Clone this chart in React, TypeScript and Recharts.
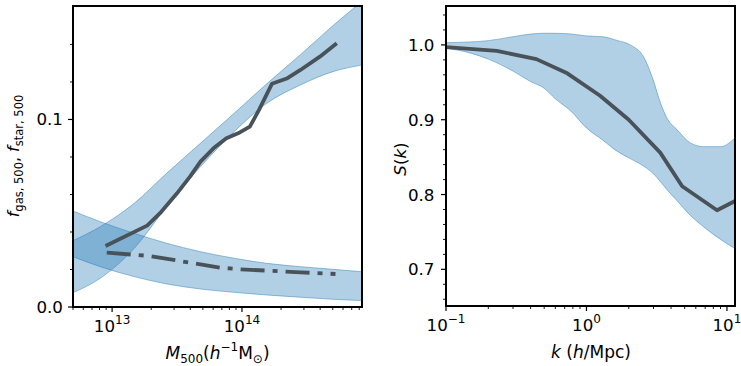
import React from "react";
import { ComposedChart, Area, Line, XAxis, YAxis } from "recharts";

const FONT = "DejaVu Sans";
const BAND = "#1f77b4";
const LINE = "#4a5259";

// left panel: gas / stellar fraction vs M500
const bandMass = [5.0e12, 8.1e12, 1.48e13, 2.63e13, 4.79e13, 8.71e13, 1.55e14, 2.82e14, 5.01e14, 8.4e14];
const gasBandHi = [0.0354, 0.0428, 0.0553, 0.0713, 0.0873, 0.1033, 0.119, 0.1345, 0.15, 0.163];
const gasBandLo = [0.0076, 0.0153, 0.0313, 0.0535, 0.0748, 0.0935, 0.1086, 0.1184, 0.1255, 0.129];
const starBandHi = [0.0512, 0.0455, 0.0393, 0.034, 0.0295, 0.026, 0.0233, 0.0215, 0.0201, 0.0188];
const starBandLo = [0.0268, 0.0215, 0.0162, 0.0123, 0.0096, 0.0078, 0.0064, 0.0052, 0.0041, 0.0034];

const gasMass = [8.9e12, 1.86e13, 2.34e13, 3.16e13, 3.98e13, 4.79e13, 6.03e13, 7.59e13, 9.33e13, 1.15e14, 1.35e14, 1.7e14, 2.24e14, 2.82e14, 3.98e14, 5.37e14];
const gasFrac = [0.0325, 0.0434, 0.05, 0.0606, 0.0695, 0.0775, 0.0846, 0.09, 0.0926, 0.0962, 0.105, 0.119, 0.122, 0.1264, 0.1335, 0.1406];

const starMass = [9.1e12, 1.95e13, 4.27e13, 6.76e13, 9.77e13, 1.55e14, 2.82e14, 5.25e14];
const starFrac = [0.029, 0.0272, 0.0233, 0.021, 0.0201, 0.0194, 0.0185, 0.0176];

const massTicks = [5e12, 6e12, 7e12, 8e12, 9e12, 1e13, 2e13, 3e13, 4e13, 5e13, 6e13, 7e13, 8e13, 9e13, 1e14, 2e14, 3e14, 4e14, 5e14, 6e14, 7e14, 8e14];
const fracTicks = [0, 0.02, 0.04, 0.06, 0.08, 0.1, 0.12, 0.14];
const fracMajor = [0, 0.1];

// right panel: suppression S(k)
const kBand = [0.1, 0.15, 0.2, 0.3, 0.4, 0.5, 0.6, 0.77, 1.0, 1.3, 1.65, 2.05, 2.55, 2.95, 3.4, 3.8, 4.4, 5.5, 6.8, 9.0, 11.6];
const sBandHi = [1.003, 1.004, 1.0057, 1.011, 1.0145, 1.0156, 1.0155, 1.0147, 1.012, 1.011, 1.006, 1.0, 0.984, 0.956, 0.92, 0.9, 0.887, 0.869, 0.864, 0.864, 0.877];
const sBandLo = [0.9956, 0.989, 0.981, 0.965, 0.951, 0.942, 0.928, 0.912, 0.889, 0.873, 0.858, 0.848, 0.838, 0.829, 0.816, 0.805, 0.792, 0.772, 0.757, 0.74, 0.727];

const kLine = [0.1, 0.23, 0.44, 0.73, 1.25, 2.0, 3.35, 4.8, 8.5, 11.6];
const sLine = [0.997, 0.992, 0.981, 0.962, 0.932, 0.9, 0.856, 0.811, 0.779, 0.792];

const kTicks = [0.1, 0.2, 0.3, 0.4, 0.5, 0.6, 0.7, 0.8, 0.9, 1, 2, 3, 4, 5, 6, 7, 8, 9, 10];
const sTicks = [0.66, 0.68, 0.7, 0.72, 0.74, 0.76, 0.78, 0.8, 0.82, 0.84, 0.86, 0.88, 0.9, 0.92, 0.94, 0.96, 0.98, 1.0, 1.02, 1.04];
const sMajor = [0.7, 0.8, 0.9, 1.0];

const bandRows = (xs: number[], lo: number[], hi: number[]) => xs.map((x, i) => ({ x, lo: lo[i], hi: hi[i] }));
const lineRows = (xs: number[], ys: number[]) => xs.map((x, i) => ({ x, y: ys[i] }));

const LogTick = (props: any) => {
  const { x, y, payload } = props;
  const e = Math.log10(payload.value);
  const major = Math.abs(e - Math.round(e)) < 1e-6;
  const len = major ? 5 : 3;
  const exp = Math.round(e);
  return (
    <g>
      <line x1={x} x2={x} y1={y} y2={y + len} stroke="#000" strokeWidth={major ? 1.2 : 0.9} />
      {major && (
        <text x={x} y={y + 25} textAnchor="middle" fontSize={16.7} fill="#000" fontFamily={FONT}>
          <tspan>10</tspan>
          <tspan dy={-8.5} fontSize={12}>{exp < 0 ? "\u2212" + -exp : exp}</tspan>
        </text>
      )}
    </g>
  );
};

const makeLinTick = (majors: number[], gap: number) => (props: any) => {
  const { x, y, payload } = props;
  const major = majors.some((m) => Math.abs(m - payload.value) < 1e-9);
  const len = major ? 5 : 3;
  return (
    <g>
      <line x1={x - len} x2={x} y1={y} y2={y} stroke="#000" strokeWidth={major ? 1.2 : 0.9} />
      {major && (
        <text x={x - gap} y={y} dy="0.36em" textAnchor="end" fontSize={16.7} fill="#000" fontFamily={FONT}>
          {payload.value.toFixed(1)}
        </text>
      )}
    </g>
  );
};

const FracTick = makeLinTick(fracMajor, 10);
const STick = makeLinTick(sMajor, 11.5);

function LeftPanel() {
  return (
    <ComposedChart width={370} height={366} margin={{ top: 6, right: 8, bottom: 29, left: 0 }}>
      <XAxis
        dataKey="x"
        type="number"
        scale="log"
        domain={[5e12, 8.4e14]}
        allowDataOverflow
        ticks={massTicks}
        interval={0}
        tick={<LogTick />}
        tickLine={false}
        tickSize={0}
        tickMargin={0}
        axisLine={false}
        height={30}
      />
      <YAxis
        type="number"
        domain={[0, 0.1605]}
        allowDataOverflow
        ticks={fracTicks}
        interval={0}
        tick={<FracTick />}
        tickLine={false}
        tickSize={0}
        tickMargin={0}
        axisLine={false}
        width={73}
      />
      <Area
        data={bandRows(bandMass, gasBandLo, gasBandHi)}
        dataKey={(d: any) => [d.lo, d.hi]}
        type="monotone"
        fill={BAND}
        fillOpacity={0.35}
        stroke={BAND}
        strokeOpacity={0.45}
        strokeWidth={1}
        isAnimationActive={false}
      />
      <Area
        data={bandRows(bandMass, starBandLo, starBandHi)}
        dataKey={(d: any) => [d.lo, d.hi]}
        type="monotone"
        fill={BAND}
        fillOpacity={0.35}
        stroke={BAND}
        strokeOpacity={0.45}
        strokeWidth={1}
        isAnimationActive={false}
      />
      <Line
        data={lineRows(gasMass, gasFrac)}
        dataKey="y"
        type="linear"
        stroke={LINE}
        strokeWidth={3.8}
        strokeLinejoin="round"
        dot={false}
        activeDot={false}
        isAnimationActive={false}
      />
      <Line
        data={lineRows(starMass, starFrac)}
        dataKey="y"
        type="linear"
        stroke={LINE}
        strokeWidth={3.8}
        strokeDasharray="24 8 5 8"
        dot={false}
        activeDot={false}
        isAnimationActive={false}
      />
    </ComposedChart>
  );
}

function RightPanel() {
  return (
    <ComposedChart width={371} height={366} margin={{ top: 6, right: 5, bottom: 30, left: 0 }}>
      <XAxis
        dataKey="x"
        type="number"
        scale="log"
        domain={[0.1, 11.6]}
        allowDataOverflow
        ticks={kTicks}
        interval={0}
        tick={<LogTick />}
        tickLine={false}
        tickSize={0}
        tickMargin={0}
        axisLine={false}
        height={30}
      />
      <YAxis
        type="number"
        domain={[0.651, 1.052]}
        allowDataOverflow
        ticks={sTicks}
        interval={0}
        tick={<STick />}
        tickLine={false}
        tickSize={0}
        tickMargin={0}
        axisLine={false}
        width={76}
      />
      <Area
        data={bandRows(kBand, sBandLo, sBandHi)}
        dataKey={(d: any) => [d.lo, d.hi]}
        type="monotone"
        fill={BAND}
        fillOpacity={0.35}
        stroke={BAND}
        strokeOpacity={0.45}
        strokeWidth={1}
        isAnimationActive={false}
      />
      <Line
        data={lineRows(kLine, sLine)}
        dataKey="y"
        type="linear"
        stroke={LINE}
        strokeWidth={3.8}
        strokeLinejoin="round"
        dot={false}
        activeDot={false}
        isAnimationActive={false}
      />
    </ComposedChart>
  );
}

export default function App() {
  return (
    <div style={{ position: "absolute", left: 0, top: 0, width: 741, height: 366, background: "#fff", fontFamily: FONT }}>
      <div style={{ position: "absolute", left: 0, top: 0 }}>
        <LeftPanel />
      </div>
      <div style={{ position: "absolute", left: 370, top: 0 }}>
        <RightPanel />
      </div>
      <svg width={741} height={366} style={{ position: "absolute", left: 0, top: 0, pointerEvents: "none" }} fontFamily={FONT}>
        <rect x={73} y={6} width={289} height={301} fill="none" stroke="#000" strokeWidth={2} />
        <rect x={446} y={6} width={289} height={300} fill="none" stroke="#000" strokeWidth={2} />
        {/* x labels */}
        <text x={217.5} y={359} textAnchor="middle" fontSize={17} fill="#000">
          <tspan fontStyle="italic">M</tspan>
          <tspan dy={3.5} fontSize={12}>500</tspan>
          <tspan dy={-3.5}>(</tspan>
          <tspan fontStyle="italic">h</tspan>
          <tspan dy={-8} fontSize={12}>{"\u22121"}</tspan>
          <tspan dy={8}>M</tspan>
          <tspan dy={3.5} fontSize={12}>{"\u2299"}</tspan>
          <tspan dy={-3.5}>)</tspan>
        </text>
        <text x={591} y={358} textAnchor="middle" fontSize={17} fill="#000">
          <tspan fontStyle="italic">k</tspan>
          <tspan> (</tspan>
          <tspan fontStyle="italic">h</tspan>
          <tspan>/Mpc)</tspan>
        </text>
        {/* y labels */}
        <text transform="translate(19,156) rotate(-90)" textAnchor="middle" fontSize={16} fill="#000">
          <tspan fontStyle="italic">f</tspan>
          <tspan dy={3.5} fontSize={11.5}>gas, 500</tspan>
          <tspan dy={-3.5}>, </tspan>
          <tspan fontStyle="italic">f</tspan>
          <tspan dy={3.5} fontSize={11.5}>star, 500</tspan>
        </text>
        <text transform="translate(405.5,159) rotate(-90)" textAnchor="middle" fontSize={16.7} fill="#000">
          <tspan fontStyle="italic">S</tspan>
          <tspan>(</tspan>
          <tspan fontStyle="italic">k</tspan>
          <tspan>)</tspan>
        </text>
      </svg>
    </div>
  );
}
